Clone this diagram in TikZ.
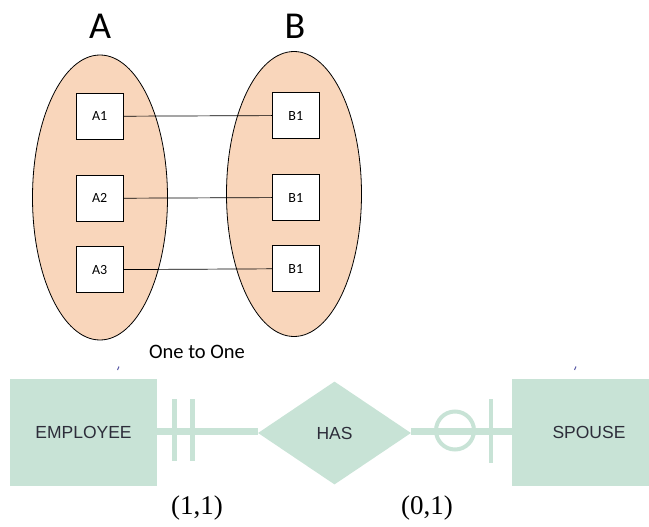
\documentclass[tikz,border=0pt]{standalone}
\usepackage{fontspec}
\setmainfont{Carlito}
\newfontfamily\arialf{Liberation Sans}
\newfontfamily\timesf{Liberation Serif}
\usetikzlibrary{shapes.geometric}
\definecolor{peach}{RGB}{249,214,187}
\definecolor{ergreen}{RGB}{200,227,214}
\definecolor{ertext}{RGB}{45,45,58}
\tikzset{
  setell/.style={ellipse, draw=black, line width=0.8pt, fill=peach, minimum width=135, minimum height=285, inner sep=0},
  elbox/.style={draw=black, line width=0.8pt, fill=white, minimum width=47, minimum height=46, inner sep=0, font=\fontsize{14}{16}\selectfont},
  link/.style={draw=black, line width=0.7pt},
  entity/.style={fill=ergreen, minimum height=107, inner sep=0, font=\arialf\fontsize{17.5}{20}\selectfont, text=ertext},
  relship/.style={diamond, fill=ergreen, minimum width=153, minimum height=103, inner sep=0, font=\arialf\fontsize{17.5}{20}\selectfont, text=ertext},
  erline/.style={draw=ergreen, line width=7pt},
  ertick/.style={draw=ergreen, line width=5pt},
  card/.style={font=\timesf\fontsize{27}{30}\selectfont}
}
\begin{document}
\begin{tikzpicture}[x=1pt,y=-1pt]
\useasboundingbox (0,0) rectangle (649,527);
% top part
\node[font=\fontsize{38}{42}\selectfont] (labA) at (100,26) {A};
\node[font=\fontsize{38}{42}\selectfont] (labB) at (295,26) {B};
\node[setell] (setA) at (100,197.5) {};
\node[setell] (setB) at (294,194) {};
\node[elbox] (A1) at (99.7,116.3) {A1};
\node[elbox] (A2) at (99.7,198.3) {A2};
\node[elbox] (A3) at (99.7,269.7) {A3};
\node[elbox] (B1) at (295.8,115.5) {B1};
\node[elbox] (B2) at (295.8,197.5) {B1};
\node[elbox] (B3) at (295.8,268.7) {B1};
\draw[link] (A1) -- (B1);
\draw[link] (A2) -- (B2);
\draw[link] (A3) -- (B3);
\node[font=\fontsize{20.5}{24}\selectfont] (title) at (197,352) {One to One};
% small marks
\draw[draw=gray!70!blue, line width=1pt] (117.5,370) -- (119,366.5);
\draw[draw=gray!70!blue, line width=1pt] (574.5,370) -- (576,366.5);
% bottom ER part
\node[entity, minimum width=147] (emp) at (83.5,432.5) {EMPLOYEE};
\node[entity, minimum width=154] (sp) at (589,432.5) {SPOUSE};
\node[relship] (has) at (334.5,433) {HAS};
\draw[erline] (emp.east |- 0,431.3) -- (has.west |- 0,431.3);
\draw[erline] (has.east |- 0,431.3) -- (sp.west |- 0,431.3);
\draw[ertick] (174.2,399) -- (174.2,461);
\draw[ertick] (192.2,399) -- (192.2,461);
\draw[draw=ergreen, line width=4pt] (455,430.5) circle[radius=19];
\draw[draw=ergreen, line width=3.5pt] (491,399) -- (491,463);
\node[card] (c1) at (197,508) {(1,1)};
\node[card] (c2) at (427,508) {(0,1)};
\end{tikzpicture}
\end{document}
